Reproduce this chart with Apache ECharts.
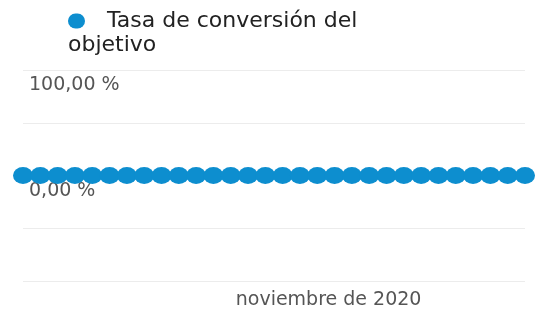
<!DOCTYPE html>
<html>
<head>
  <meta charset="utf-8">
  <title>Tasa de conversión del objetivo</title>
  <script src="https://cdn.jsdelivr.net/npm/echarts@6/dist/echarts.min.js"></script>
  <style>
    html, body { margin: 0; padding: 0; background: #fff; }
    #chart { width: 540px; height: 310px; }
  </style>
</head>
<body>
<div id="chart"></div>
<script>
// datos del gráfico (noviembre 2020, un punto por día)
const days = ['1', '2', '3', '4', '5', '6', '7', '8', '9', '10',
  '11', '12', '13', '14', '15', '16', '17', '18', '19', '20',
  '21', '22', '23', '24', '25', '26', '27', '28', '29', '30']
const conversionValues = [0, 0, 0, 0, 0, 0, 0, 0, 0, 0,
  0, 0, 0, 0, 0, 0, 0, 0, 0, 0,
  0, 0, 0, 0, 0, 0, 0, 0, 0, 0]
const seriesName = 'Tasa de conversión del objetivo'
const yTicks = [100, 0]
const yTickLabels = ['100,00 %', '0,00 %']
const monthLabel = 'noviembre de 2020'
const monthLabelIndex = 18 // posición del rótulo del mes en el eje x

const blue = '#0d8ecf'
const chartInstance = echarts.init(document.getElementById('chart'), null, {renderer: 'canvas'})

const option = {
  animation: false,
  legend: {
    left: 58,
    top: 4,
    icon: 'none',
    itemWidth: 0,
    itemHeight: 0,
    data: [seriesName],
    formatter: name => {
      // partir el nombre en dos líneas como en la app
      const lines = name.replace(/ (\S+)$/, '\n$1').split('\n')
      return '{dot|}{gap|}{t|' + lines[0] + '}\n{t|' + lines[1] + '}'
    },
    textStyle: {
      fontFamily: 'DejaVu Sans',
      fontSize: 22,
      color: '#222',
      lineHeight: 24,
      rich: {
        dot: {width: 17, height: 15, borderRadius: 8, backgroundColor: blue},
        gap: {width: 22},
        t: {fontFamily: 'DejaVu Sans', fontSize: 22, color: '#222', lineHeight: 24}
      }
    }
  },
  grid: {
    left: 23,
    right: 15,
    top: 70,
    bottom: 28
  },
  xAxis: {
    type: 'category',
    data: days,
    boundaryGap: false,
    axisLine: {show: false},
    axisTick: {show: false},
    splitLine: {show: false},
    axisLabel: {
      interval: (i) => i === monthLabelIndex,
      formatter: () => monthLabel,
      margin: 10,
      padding: [0, 12, 0, 0],
      fontFamily: 'DejaVu Sans',
      fontSize: 19,
      color: '#555'
    }
  },
  yAxis: {
    type: 'value',
    min: -100,
    max: 100,
    interval: 50,
    axisLine: {show: false},
    axisTick: {show: false},
    splitLine: {lineStyle: {color: '#ececec', width: 1}},
    axisLabel: {
      inside: true,
      align: 'left',
      verticalAlign: 'top',
      margin: 6,
      padding: [6, 0, 0, 0],
      fontFamily: 'DejaVu Sans',
      fontSize: 19,
      color: '#555',
      formatter: v => {
        const i = yTicks.indexOf(v)
        return i >= 0 ? yTickLabels[i] : ''
      }
    }
  },
  series: [
    {
      name: seriesName,
      type: 'line',
      data: conversionValues,
      symbol: 'circle',
      symbolSize: [20, 17],
      showSymbol: true,
      showAllSymbol: true,
      z: 1,
      lineStyle: {width: 3, color: blue},
      itemStyle: {color: blue}
    }
  ]
}
chartInstance.setOption(option)
</script>
</body>
</html>
